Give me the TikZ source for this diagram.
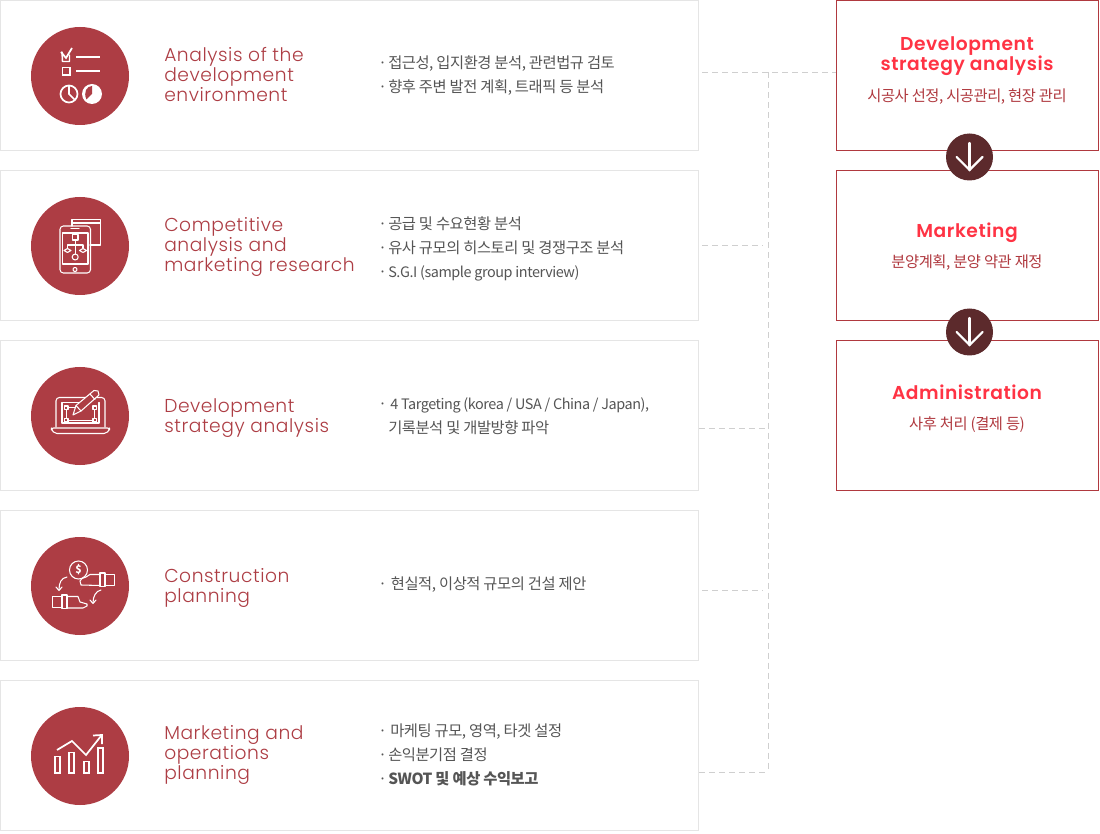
\documentclass[tikz,border=0pt]{standalone}
\usepackage{fontspec}
\usepackage{xcolor}
\setmainfont{Noto Sans CJK KR}
\newfontfamily\korfont[LetterSpace=-3]{Noto Sans CJK KR}
\newfontfamily\latfont[LetterSpace=-3,Scale=0.94]{Noto Sans CJK KR}
\newfontfamily\titlefont[UprightFont=* Light,LetterSpace=3]{Poppins}
\newfontfamily\headfont[UprightFont=* SemiBold,LetterSpace=3]{Poppins}
\definecolor{wine}{HTML}{AD3D44}
\definecolor{framered}{HTML}{B0393F}
\definecolor{headred}{HTML}{FF3344}
\definecolor{darkwine}{HTML}{5C2A2C}
\definecolor{framegray}{HTML}{E5E5E5}
\definecolor{dashgray}{HTML}{CFCFCF}
\definecolor{bodygray}{HTML}{555555}
\newcommand{\bul}{\makebox[7.5pt][l]{·}}
\tikzset{
  leftbox/.style={draw=framegray, line width=.75pt, fill=white, minimum width=523.5pt, minimum height=112.5pt, inner sep=0pt},
  rightbox/.style={draw=framered, line width=.75pt, fill=white, minimum width=196.5pt, minimum height=112.5pt, inner sep=0pt},
  iconcircle/.style={circle, fill=wine, minimum size=73.5pt, inner sep=0pt},
  arrowcircle/.style={circle, fill=darkwine, minimum size=35.25pt, inner sep=0pt},
  titletext/.style={anchor=base west, align=left, text=wine, inner sep=0pt, font=\titlefont\fontsize{14}{15}\selectfont},
  bodytext/.style={anchor=base west, align=left, text=bodygray, inner sep=0pt, font=\korfont\fontsize{11.5}{18}\selectfont},
  headtext/.style={anchor=base, align=center, text=headred, inner sep=0pt, font=\headfont\fontsize{14}{15}\selectfont},
  subtext/.style={anchor=base, align=center, text=framered, inner sep=0pt, font=\korfont\fontsize{11.5}{15}\selectfont},
  dashline/.style={draw=dashgray, line width=.75pt, dash pattern=on 4.5pt off 3pt},
  iconline/.style={draw=white, line width=.8pt, line join=round, line cap=round},
  iconthick/.style={draw=white, line width=1.3pt, line join=miter},
  arrowline/.style={draw=white, line width=1.6pt, line cap=round, line join=miter}
}
\begin{document}
\begin{tikzpicture}[x=.75pt, y=-.75pt]
  \useasboundingbox (0,0) rectangle (1100,834);
  \node[leftbox] (box1) at (349.5,75.5) {};
  \node[leftbox] (box2) at (349.5,245.5) {};
  \node[leftbox] (box3) at (349.5,415.5) {};
  \node[leftbox] (box4) at (349.5,585.5) {};
  \node[leftbox] (box5) at (349.5,755.5) {};
  \node[rightbox] (dev) at (967.5,75.5) {};
  \node[rightbox] (market) at (967.5,245.5) {};
  \node[rightbox] (admin) at (967.5,415.5) {};

  \node[iconcircle] (icon1) at (80,76) {};
  \node[iconcircle] (icon2) at (80,246) {};
  \node[iconcircle] (icon3) at (80,416) {};
  \node[iconcircle] (icon4) at (80,586) {};
  \node[iconcircle] (icon5) at (80,756) {};

  \node[titletext] (title1) at (164,102) {Analysis of the\\development\\environment};
  \node[titletext] (title2) at (164,272) {Competitive\\analysis and\\marketing research};
  \node[titletext] (title3) at (164,432) {Development\\strategy analysis};
  \node[titletext] (title4) at (164,602) {Construction\\planning};
  \node[titletext] (title5) at (164,779) {Marketing and\\operations\\planning};

  \node[bodytext] (text1) at (378,93) {\bul 접근성, 입지환경 분석, 관련법규 검토\\\bul 향후 주변 발전 계획, 트래픽 등 분석};
  \node[bodytext] (text2) at (378,277.5) {\bul 공급 및 수요현황 분석\\\bul 유사 규모의 히스토리 및 경쟁구조 분석\\\bul {\latfont S.G.I (sample group interview)}};
  \node[bodytext] (text3) at (378,433) {\bul\hspace{1.5pt}{\latfont 4 Targeting (korea / USA / China / Japan),}\\\hspace{7.5pt}기록분석 및 개발방향 파악};
  \node[bodytext] (text4) at (378,589) {\bul\hspace{2pt}현실적, 이상적 규모의 건설 제안};
  \node[bodytext] (text5) at (378,784) {\bul\hspace{1.5pt}마케팅 규모, 영역, 타겟 설정\\\bul 손익분기점 결정\\\bul\textbf{SWOT 및 예상 수익보고}};

  \node[headtext] (head1) at (967,70.5) {Development\\strategy analysis};
  \node[subtext] (sub1) at (967,101.5) {시공사 선정, 시공관리, 현장 관리};
  \node[headtext] (head2) at (967,237.5) {Marketing};
  \node[subtext] (sub2) at (967,267.5) {분양계획, 분양 약관 재정};
  \node[headtext] (head3) at (967,399.5) {Administration};
  \node[subtext] (sub3) at (967,429.5) {사후 처리 (결제 등)};

  \node[arrowcircle] (down1) at (969.5,157) {};
  \node[arrowcircle] (down2) at (969.5,332) {};
  \draw[arrowline] (down1) ++(0,-14) -- ++(0,27);
  \draw[arrowline] (down1) ++(-13,0) -- ++(13,13) -- ++(13,-13);
  \draw[arrowline] (down2) ++(0,-14) -- ++(0,27);
  \draw[arrowline] (down2) ++(-13,0) -- ++(13,13) -- ++(13,-13);

  \coordinate (start1) at (702,72.5);
  \coordinate (start2) at (702,245.5);
  \coordinate (start3) at (699,428.5);
  \coordinate (start4) at (702,590.5);
  \coordinate (start5) at (699,772.5);
  \coordinate (trunktop) at (768.5,72.5);
  \coordinate (trunkend) at (768.5,772.5);
  \draw[dashline] (start1) -- (start1 -| dev.west);
  \draw[dashline] (trunktop) -- (trunkend);
  \draw[dashline] (start2) -- (763,245.5);
  \draw[dashline] (start3) -- (start3 -| trunktop);
  \draw[dashline] (start4) -- (763,590.5);
  \draw[dashline] (start5) -- (trunkend);

  \draw[iconline, line width=1.1pt] (62,52) -- (62.5,61.5) -- (69.5,61.5) -- (69.5,55);
  \draw[iconthick] (61,52) -- (66,58) -- (72,48);
  \draw[iconthick] (76,57) -- (100,57);
  \draw[iconthick] (76,71) -- (100,71);
  \draw[iconthick] (62.5,67.5) rectangle (70,75);
  \draw[iconthick] (69,94) circle (8.5);
  \draw[iconthick] (69,85.5) -- (69,94) -- (75,100);
  \fill[white] (92,94) circle (10);
  \fill[wine] (92,94) -- (92,86) .. controls (87,86) and (83,92) .. (86.5,99.5) -- cycle;

  \draw[iconline] (72,226) -- (72,219.5) -- (100.5,219.5) -- (100.5,245) -- (90,245);
  \draw[iconline] (72,223) -- (100.5,223);
  \draw[iconline, rounded corners=2.5pt] (60,226) rectangle (90.5,273);
  \draw[iconline] (62.5,233) rectangle (88,264);
  \draw[iconline] (71,228.5) -- (79,228.5);
  \draw[iconline] (75,269.5) circle (2);
  \draw[iconline] (72.5,234.5) rectangle (78,240);
  \draw[iconline] (75.2,240) -- (75.2,254);
  \draw[iconline] (67.5,248) -- (67.5,245) -- (83,245) -- (83,248);
  \draw[iconline] (75.2,257) circle (3);
  \draw[iconline] (64,250.5) -- (67.5,248.5) -- (71,250.5) -- (67.5,252.5) -- cycle;
  \draw[iconline] (79.5,250.5) -- (83,248.5) -- (86.5,250.5) -- (83,252.5) -- cycle;

  \draw[iconline, rounded corners=2.5pt] (56,427) -- (56,397.5) -- (105,397.5) -- (105,427);
  \draw[iconline] (62,423) -- (62,402.5) -- (87,402.5);
  \draw[iconline] (99,402.5) -- (99,423) -- (62,423);
  \draw[iconline, rounded corners=1.5pt] (51.5,428) -- (109.5,428) -- (109.5,430) -- (106,433.5) -- (55,433.5) -- (51.5,430) -- cycle;
  \draw[iconline] (64.5,406) rectangle (68,409.5);
  \draw[iconline] (93,406) rectangle (96.5,409.5);
  \draw[iconline] (64.5,418.5) rectangle (68,422);
  \draw[iconline] (93,418.5) rectangle (96.5,422);
  \draw[iconline] (68,407.7) -- (83,407.7);
  \draw[iconline] (94.7,409.5) -- (94.7,418.5);
  \draw[iconline] (68,420.2) -- (93,420.2);
  \draw[iconline] (66.2,409.5) -- (66.2,418.5);
  \draw[iconline, fill=wine] (73,415) -- (76,405.5) -- (94,390.5) -- (98,391) -- (99,395) -- (81,411) -- cycle;
  \draw[iconline] (76,405.5) -- (81,411);
  \draw[iconline] (90,394) -- (95,399.5);

  \draw[iconline] (78.5,570) circle (9);
  \node[text=white, inner sep=0pt, font=\fontsize{8}{8}\selectfont\bfseries] (dollar) at (78.5,570) {\$};
  \draw[iconline] (100,574.5) -- (90,574.5) -- (86,577) -- (82,578.5) -- (80,581) -- (81,585) -- (100,585.5);
  \draw[iconline] (100,573) rectangle (105,586.5);
  \draw[iconline] (105,574.5) rectangle (114.5,585.5);
  \draw[iconline] (52.5,596.5) rectangle (62,607.5);
  \draw[iconline] (62,595) rectangle (67,608.5);
  \draw[iconline] (67,596.5) -- (78,596.5) -- (80,602) -- (87,604) -- (87,606) -- (83,608) -- (67,608);
  \draw[iconline] (67,577) .. controls (61,578) and (59,583) .. (59,590);
  \draw[iconline] (56,587) -- (59,590.5) -- (62,587);
  \draw[iconline] (101,590) .. controls (96,591) and (93,596) .. (93,603);
  \draw[iconline] (90,600) -- (93,603.5) -- (96,600);

  \draw[iconthick] (54.7,756.5) rectangle (59.7,773);
  \draw[iconthick] (69,752.5) rectangle (74,773);
  \draw[iconthick] (83.7,761.5) rectangle (88.7,773);
  \draw[iconthick] (98,748) rectangle (103,773);
  \draw[iconthick] (57,750) -- (72,741) -- (86,755) -- (101,736);
  \draw[iconthick] (93,735.5) -- (102,735) -- (102,744);
\end{tikzpicture}
\end{document}
